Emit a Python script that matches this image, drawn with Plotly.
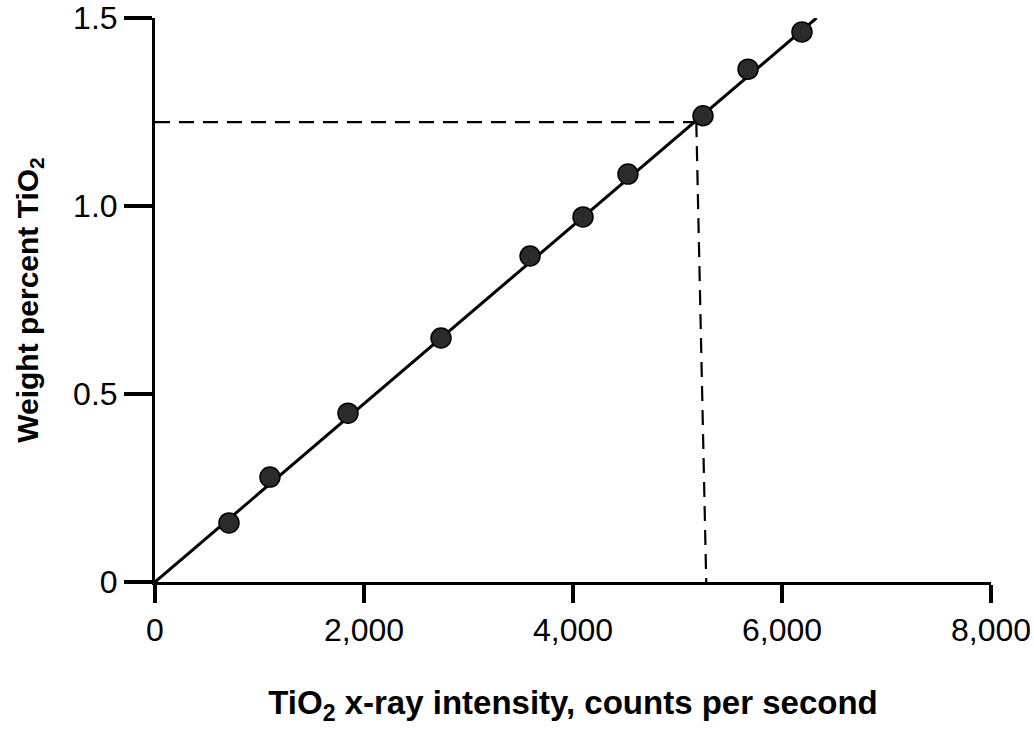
import plotly.graph_objects as go

# Calibration standards: TiO2 x-ray intensity (counts/s) vs weight percent TiO2
intensity = [708, 1100, 1847, 2737, 3589, 4096, 4526, 5244, 5675, 6191]
weight_pct = [0.157, 0.279, 0.449, 0.649, 0.867, 0.971, 1.085, 1.240, 1.364, 1.463]

# Calibration (fit) line
fit_x = [0, 6330]
fit_y = [0, 1.50]

# Unknown sample reading (dashed guide lines)
reading_h_x = [0, 5180]
reading_h_y = [1.223, 1.223]
reading_v_x = [5180, 5275]
reading_v_y = [1.223, 0]

x_ticks = [0, 2000, 4000, 6000, 8000]
x_tick_text = ["0", "2,000", "4,000", "6,000", "8,000"]
y_ticks = [0, 0.5, 1.0, 1.5]
y_tick_text = ["0", "0.5", "1.0", "1.5"]

fig = go.Figure()

fig.add_trace(go.Scatter(x=reading_h_x, y=reading_h_y, mode="lines",
                         line=dict(color="black", width=2.2, dash="15px,9px"),
                         hoverinfo="skip", showlegend=False))
fig.add_trace(go.Scatter(x=reading_v_x, y=reading_v_y, mode="lines",
                         line=dict(color="black", width=2.2, dash="15px,9px"),
                         hoverinfo="skip", showlegend=False))
fig.add_trace(go.Scatter(x=fit_x, y=fit_y, mode="lines",
                         line=dict(color="black", width=3),
                         cliponaxis=False, showlegend=False))
fig.add_trace(go.Scatter(x=intensity, y=weight_pct, mode="markers",
                         marker=dict(size=20, color="#2b2b2b",
                                     line=dict(color="black", width=1.5)),
                         cliponaxis=False, showlegend=False))

tick_font = dict(family="Liberation Sans, Arial, sans-serif", size=32, color="black")

fig.update_layout(
    width=1034, height=729,
    margin=dict(l=155, r=43, t=18, b=147),
    paper_bgcolor="white", plot_bgcolor="white",
    xaxis=dict(range=[0, 8000], tickvals=x_ticks, ticktext=x_tick_text,
               ticks="outside", ticklen=18, tickwidth=4, tickcolor="black",
               showline=True, linewidth=3, linecolor="black",
               showgrid=False, zeroline=False, tickfont=tick_font,
               ticklabeloverflow="allow", automargin=False,
               title=dict(text="<b>TiO<sub>2</sub> x-ray intensity, counts per second</b>",
                          font=dict(family="Liberation Sans, Arial, sans-serif",
                                    size=33, color="black"),
                          standoff=44)),
    yaxis=dict(range=[0, 1.5], tickvals=y_ticks, ticktext=y_tick_text,
               ticks="outside", ticklen=28, tickwidth=4, tickcolor="black",
               showline=True, linewidth=3, linecolor="black",
               showgrid=False, zeroline=False, tickfont=tick_font,
               ticklabeloverflow="allow", automargin=False,
               title=dict(text="<b>Weight percent TiO<sub>2</sub></b>",
                          font=dict(family="Liberation Sans, Arial, sans-serif",
                                    size=30, color="black"),
                          standoff=26)),
)

fig.write_html("out.html", config={"displayModeBar": False},
               post_script="document.body.style.margin='0';")
